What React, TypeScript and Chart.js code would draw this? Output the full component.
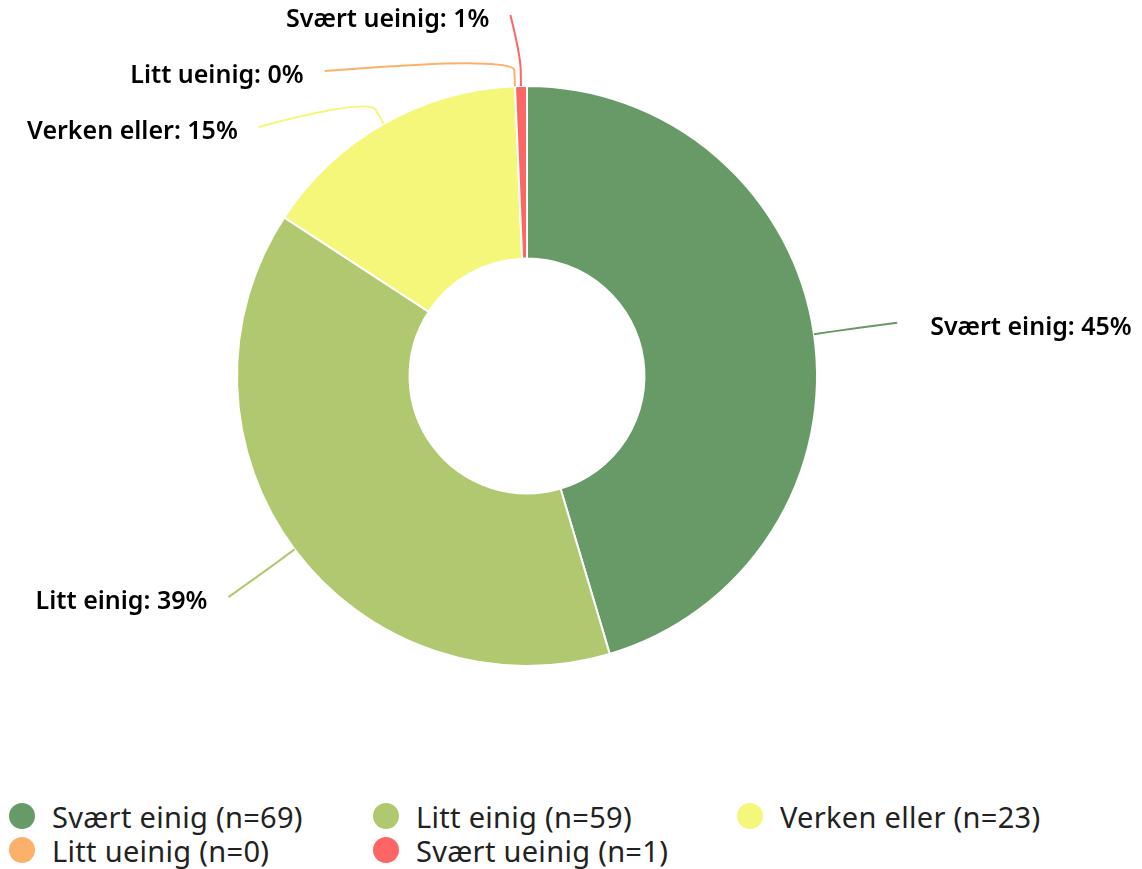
import React, { useEffect, useRef } from "react";
import { Chart, registerables } from "chart.js";

Chart.register(...registerables);

const categories = ["Svært einig", "Litt einig", "Verken eller", "Litt ueinig", "Svært ueinig"];
const counts = [69, 59, 23, 0, 1];
const colors = ["#679a66", "#b0c970", "#f5f77a", "#fcb16b", "#fe6666"];

const LABEL_FONT = "600 25px 'Noto Sans'";

const outerLabels = {
  id: "outerLabels",
  afterDatasetsDraw(chart: any) {
    const ctx = chart.ctx as CanvasRenderingContext2D;
    const meta = chart.getDatasetMeta(0);
    const data = chart.data.datasets[0].data as number[];
    const total = data.reduce((a, b) => a + b, 0);
    const D = 80, BREAK = 16, GAP = 56, TOP = 15;
    const items = meta.data.map((arc: any, i: number) => {
      const p = arc.getProps(["x", "y", "startAngle", "endAngle", "outerRadius"], true);
      const a = (p.startAngle + p.endAngle) / 2;
      const cos = Math.cos(a), sin = Math.sin(a);
      const r = p.outerRadius;
      const R = r + D;
      return {
        i, cx: p.x, cy: p.y, R, left: cos < 0,
        touch: { x: p.x + r * cos, y: p.y + r * sin },
        brk: { x: p.x + (r + BREAK) * cos, y: p.y + (r + BREAK) * sin },
        natX: p.x + R * cos, natY: p.y + R * sin, x: 0, y: 0,
      };
    });
    for (const side of [true, false]) {
      const list = items.filter((it: any) => it.left === side).sort((a: any, b: any) => a.natY - b.natY);
      let prev = -Infinity;
      list.forEach((it: any, k: number) => {
        const y = Math.max(it.natY, k === 0 ? TOP : prev + GAP);
        it.y = y;
        prev = y;
        if (Math.abs(y - it.natY) < 12) {
          const nearPole = Math.abs(it.natY - it.cy) > it.R * 0.9;
          if (side) it.x = it.natX - (nearPole ? 9 : 2);
          else it.x = it.natX + 4;
        } else {
          const dy = y - it.cy;
          const Rc = it.R - 4;
          const dx = Math.sqrt(Math.max(0, Rc * Rc - dy * dy));
          it.x = it.cx + (side ? -dx : dx);
        }
      });
    }
    ctx.save();
    items.forEach((it: any) => {
      const color = colors[it.i];
      ctx.strokeStyle = color;
      ctx.lineWidth = 2;
      ctx.beginPath();
      ctx.moveTo(it.x, it.y);
      ctx.bezierCurveTo(it.x, it.y, 2 * it.brk.x - it.touch.x, 2 * it.brk.y - it.touch.y, it.brk.x, it.brk.y);
      ctx.lineTo(it.touch.x, it.touch.y);
      ctx.stroke();
      const pct = Math.round((data[it.i] / total) * 100);
      const text = `${categories[it.i]}: ${pct}%`;
      ctx.font = LABEL_FONT;
      ctx.fillStyle = "#000";
      ctx.textBaseline = "middle";
      ctx.textAlign = it.left ? "right" : "left";
      ctx.fillText(text, it.left ? it.x - 21 : it.x + 33, it.y + 5);
    });
    ctx.restore();
  },
};

function App() {
  const ref = useRef<HTMLCanvasElement | null>(null);
  useEffect(() => {
    document.body.style.margin = "0";
    const chart = new Chart(ref.current as HTMLCanvasElement, {
      type: "doughnut",
      data: {
        labels: categories,
        datasets: [
          {
            data: counts,
            backgroundColor: colors,
            borderColor: "#ffffff",
            borderWidth: 2,
          },
        ],
      },
      options: {
        animation: false,
        responsive: false,
        devicePixelRatio: 1,
        radius: 290,
        cutout: "40.5%",
        layout: { padding: { left: 0, right: 88, top: 0, bottom: 38 } },
        plugins: {
          legend: { display: false },
          tooltip: { enabled: false },
        },
      },
      plugins: [outerLabels],
    } as any);
    return () => chart.destroy();
  }, []);

  return (
    <div style={{ position: "relative", width: 1142, height: 869, background: "#fff", overflow: "hidden" }}>
      <canvas ref={ref} width={1142} height={790} style={{ position: "absolute", left: 0, top: 0 }} />
      {categories.map((c, i) => {
        const col = i % 3;
        const row = Math.floor(i / 3);
        return (
          <div
            key={c}
            style={{
              position: "absolute",
              left: 9 + col * 364,
              top: 801 + row * 34,
              height: 30,
              display: "flex",
              alignItems: "center",
              fontFamily: "'Noto Sans'",
              fontSize: 29,
              letterSpacing: 0.3,
              color: "#222",
              whiteSpace: "nowrap",
            }}
          >
            <span
              style={{
                display: "inline-block",
                width: 26,
                height: 26,
                borderRadius: "50%",
                background: colors[i],
                marginRight: 17,
                flexShrink: 0,
              }}
            />
            <span>{`${c} (n=${counts[i]})`}</span>
          </div>
        );
      })}
    </div>
  );
}

export default App;
